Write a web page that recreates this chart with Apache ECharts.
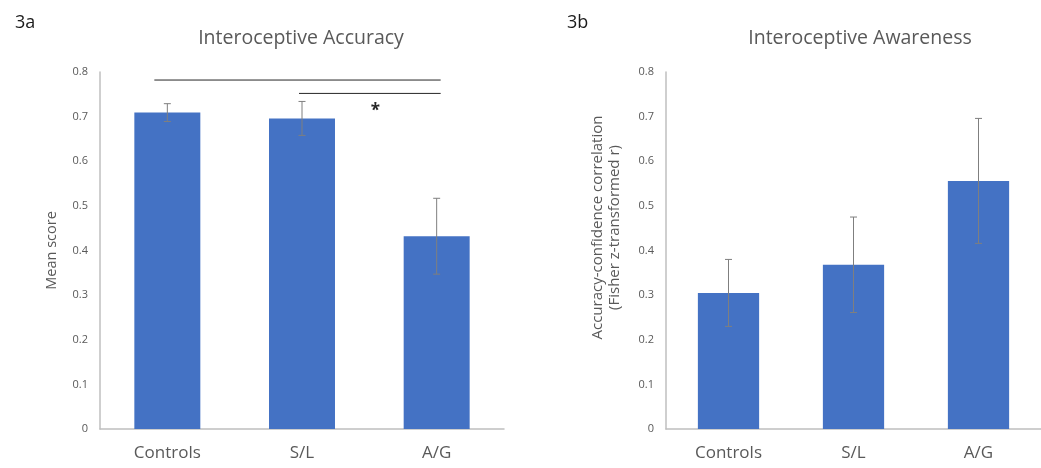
<!DOCTYPE html>
<html><head><meta charset="utf-8">
<script src="https://cdn.jsdelivr.net/npm/echarts@6/dist/echarts.min.js"></script>
<style>html,body{margin:0;padding:0;background:#fff}#c{width:1041px;height:468px}</style>
</head><body><div id="c"></div>
<script>
const categories = ['Controls', 'S/L', 'A/G'];
const accuracyMeans = [0.709, 0.696, 0.432];
const accuracyErr = [0.020, 0.038, 0.085];
const awarenessMeans = [0.305, 0.368, 0.556];
const awarenessErr = [0.075, 0.107, 0.140];
const yTicks = [0, 0.1, 0.2, 0.3, 0.4, 0.5, 0.6, 0.7, 0.8];
// significance brackets: [fromCategoryIndex, toCategoryIndex, y]
const brackets = [[0, 2, 0.782], [1, 2, 0.752]];
const starY = 0.712;

const FONT = 'Open Sans';
const GRAY = '#595959';
const AXIS = '#bfbfbf';
const BLUE = '#4472C4';

function errData(means, errs) { return means.map((m, i) => [i, m - errs[i], m + errs[i]]); }

function errRender(params, api) {
  const x = api.coord([api.value(0), 0])[0];
  const lo = api.coord([api.value(0), api.value(1)])[1];
  const hi = api.coord([api.value(0), api.value(2)])[1];
  const cap = 3.5;
  const st = { stroke: '#7f7f7f', lineWidth: 1 };
  return { type: 'group', children: [
    { type: 'line', shape: { x1: x, y1: lo, x2: x, y2: hi }, style: st },
    { type: 'line', shape: { x1: x - cap, y1: hi, x2: x + cap, y2: hi }, style: st },
    { type: 'line', shape: { x1: x - cap, y1: lo, x2: x + cap, y2: lo }, style: st }
  ]};
}

const bracketStartPad = [13, 3];
function bracketRender(params, api) {
  const x1 = api.coord([api.value(0), 0])[0] - bracketStartPad[params.dataIndex];
  const x2 = api.coord([api.value(1), 0])[0] + 4;
  const y = api.coord([0, api.value(2)])[1];
  return { type: 'line', shape: { x1: x1, y1: y, x2: x2, y2: y }, style: { stroke: '#262626', lineWidth: 1 } };
}

const yFmt = v => (v === 0 ? '0' : v.toFixed(1));

function xAxis(gi) {
  return {
    type: 'category', gridIndex: gi, data: categories,
    axisLine: { lineStyle: { color: AXIS, width: 1.5 } }, axisTick: { show: false },
    axisLabel: { color: GRAY, fontFamily: FONT, fontSize: 17, margin: 16 }
  };
}
function yAxis(gi, name, gap, size, pad) {
  return {
    type: 'value', gridIndex: gi, min: yTicks[0], max: yTicks[yTicks.length - 1], interval: 0.1,
    splitLine: { show: false }, axisTick: { show: false },
    axisLine: { show: true, lineStyle: { color: AXIS, width: 1.5 } },
    axisLabel: { color: GRAY, fontFamily: FONT, fontSize: 11, margin: 12, formatter: yFmt },
    name: name, nameLocation: 'middle', nameGap: gap, nameRotate: 90,
    nameTextStyle: { color: GRAY, fontFamily: FONT, fontSize: size, lineHeight: 17, padding: pad }
  };
}

const chart = echarts.init(document.getElementById('c'));
chart.setOption({
  animation: false,
  backgroundColor: '#fff',
  title: [
    { text: '3a', left: 10, top: 9, textStyle: { color: '#1a1a1a', fontFamily: FONT, fontSize: 18, fontWeight: 'normal' } },
    { text: 'Interoceptive Accuracy', left: 296, top: 23, textAlign: 'center', textStyle: { color: GRAY, fontFamily: FONT, fontSize: 19.5, fontWeight: 'normal' } },
    { text: '3b', left: 562, top: 9, textStyle: { color: '#1a1a1a', fontFamily: FONT, fontSize: 18, fontWeight: 'normal' } },
    { text: 'Interoceptive Awareness', left: 855, top: 23, textAlign: 'center', textStyle: { color: GRAY, fontFamily: FONT, fontSize: 19.5, fontWeight: 'normal' } }
  ],
  grid: [
    { left: 100, top: 72, width: 404, bottom: 39 },
    { left: 666, top: 72, width: 382, bottom: 39 }
  ],
  xAxis: [xAxis(0), xAxis(1)],
  yAxis: [yAxis(0, 'Mean score', 40, 14.5, 0), yAxis(1, 'Accuracy-confidence correlation\n(Fisher z-transformed r)', 43, 15, [0, 0, 0, 46])],
  series: [
    { type: 'bar', xAxisIndex: 0, yAxisIndex: 0, data: accuracyMeans, barWidth: '49%', itemStyle: { color: BLUE } },
    { type: 'custom', xAxisIndex: 0, yAxisIndex: 0, data: errData(accuracyMeans, accuracyErr), renderItem: errRender, z: 5 },
    { type: 'custom', xAxisIndex: 0, yAxisIndex: 0, data: brackets, renderItem: bracketRender, z: 5 },
    { type: 'bar', xAxisIndex: 1, yAxisIndex: 1, data: awarenessMeans, barWidth: '49%', itemStyle: { color: BLUE } },
    { type: 'custom', xAxisIndex: 1, yAxisIndex: 1, data: errData(awarenessMeans, awarenessErr), renderItem: errRender, z: 5 }
  ]
});
// asterisk placed via axis coordinates, between S/L and A/G
const p = chart.convertToPixel({ gridIndex: 0 }, [1, starY]);
const p2 = chart.convertToPixel({ gridIndex: 0 }, [2, starY]);
chart.setOption({ graphic: [{ type: 'text', x: (p[0] + p2[0]) / 2 + 6, y: p[1], style: { text: '*', fill: '#262626', font: 'bold 17px ' + FONT, align: 'center', verticalAlign: 'middle' } }] });
</script></body></html>
